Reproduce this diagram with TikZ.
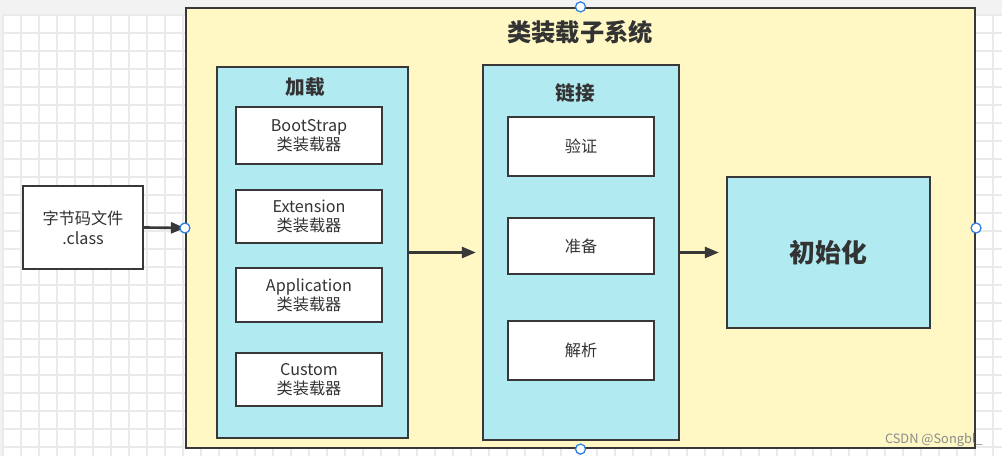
\documentclass[tikz,border=0pt]{standalone}
\usepackage{fontspec}
\newfontfamily\cjk{Noto Sans CJK SC}
\setmainfont{Noto Sans CJK SC}
\usetikzlibrary{arrows.meta}

\definecolor{linegray}{HTML}{383838}
\definecolor{paleyellow}{HTML}{FFF8C4}
\definecolor{palecyan}{HTML}{B2EAF2}
\definecolor{gridgray}{HTML}{EAEAEA}
\definecolor{handleblue}{HTML}{2A7CE0}
\definecolor{textgray}{HTML}{333333}

\begin{document}
\begin{tikzpicture}[x=0.02cm,y=-0.02cm,
    box/.style={draw=linegray,line width=1.3pt,inner sep=0pt,text=textgray,align=center},
    group/.style={box,fill=palecyan},
    item/.style={box,fill=white,minimum width=2.92cm,font=\cjk\fontsize{9.2}{11}\selectfont},
    heading/.style={text=textgray,font=\cjk\bfseries\fontsize{11.2}{13}\selectfont},
    link/.style={draw=linegray,line width=1.5pt,-{Triangle[length=0.28cm,width=0.22cm]}},
    handle/.style={circle,draw=handleblue,fill=white,line width=0.7pt,minimum size=0.2cm,inner sep=0pt}]
  \useasboundingbox (0,0) rectangle (1002,456);
  % background grid
  \fill[gray!10] (0,0) rectangle (1002,456);
  \fill[white] (2,14) rectangle (1002,456);
  \foreach \gx in {3,21,...,1002}
    \draw[gridgray,line width=0.6pt] (\gx,14) -- (\gx,456);
  \foreach \gy in {15,33,...,456}
    \draw[gridgray,line width=0.6pt] (2,\gy) -- (1002,\gy);

  % outer system box
  \node[box,fill=paleyellow,minimum width=15.78cm,minimum height=8.8cm] (system) at (580.5,228) {};
  \node[heading,font=\cjk\bfseries\fontsize{13.8}{16}\selectfont] (systemtitle) at (580,32) {类装载子系统};

  % input file
  \node[box,fill=white,minimum width=2.4cm,minimum height=1.66cm,font=\cjk\fontsize{9.2}{11.5}\selectfont] (bytecode) at (83,227.5) {字节码文件\\.class};

  % loading
  \node[group,minimum width=3.82cm,minimum height=7.42cm] (loading) at (312.5,252.5) {};
  \node[heading] (loadingtitle) at (305,87) {加载};
  \node[item,minimum height=1.14cm] (bootstrap) at (309,135.5) {BootStrap\\类装载器};
  \node[item,minimum height=1.06cm] (extension) at (309,216.5) {Extension\\类装载器};
  \node[item,minimum height=1.08cm] (application) at (309,295) {Application\\类装载器};
  \node[item,minimum height=1.06cm] (custom) at (309,379.5) {Custom\\类装载器};

  % linking
  \node[group,minimum width=3.92cm,minimum height=7.5cm] (linking) at (581,252.5) {};
  \node[heading] (linkingtitle) at (575,93) {链接};
  \node[item,minimum height=1.18cm] (verify) at (581,146.5) {验证};
  \node[item,minimum height=1.12cm] (prepare) at (581,246) {准备};
  \node[item,minimum height=1.18cm] (resolve) at (581,350.5) {解析};

  % initialization
  \node[group,minimum width=4.06cm,minimum height=3.02cm,font=\cjk\bfseries\fontsize{14.7}{17}\selectfont] (init) at (828.5,252.5) {初始化};

  % connectors
  \draw[link] (bytecode.east) -- (system.west);
  \draw[link,shorten >=0.12cm] (loading.east) -- (linking.west);
  \draw[link,shorten >=0.14cm] (linking.east) -- (init.west);

  % handles
  \foreach \side in {north,south,west,east}
    \node[handle] (handle-\side) at (system.\side) {};

  % watermark
  \node[anchor=east,text=gray!90,font=\fontsize{7.3}{8}\selectfont] (mark) at (989,440) {CSDN @Songbl\_};
\end{tikzpicture}
\end{document}
